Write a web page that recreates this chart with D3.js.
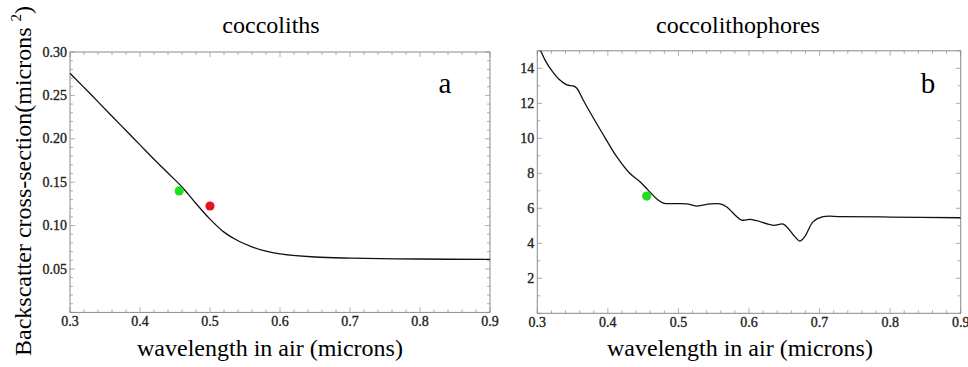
<!DOCTYPE html>
<html><head><meta charset="utf-8">
<script src="https://cdn.jsdelivr.net/npm/d3@7"></script>
<style>body{margin:0;background:#fff}svg{display:block}</style>
</head><body>
<svg id="c" width="968" height="367"></svg>
<script>
// ---- data ----
const xTicks = [0.3,0.4,0.5,0.6,0.7,0.8,0.9];
const leftYTicks = [0.05,0.10,0.15,0.20,0.25,0.30];
const rightYTicks = [2,4,6,8,10,12,14];
const coccolithWl = [0.30,0.33,0.36,0.38,0.40,0.42,0.44,0.46,0.48,0.50,0.52,0.54,0.56,0.58,0.60,0.65,0.70,0.80,0.90];
const coccolithVal = [0.2755,0.251,0.226,0.2095,0.193,0.1765,0.1605,0.1445,0.1255,0.1075,0.0925,0.0825,0.0755,0.0705,0.0675,0.0638,0.0625,0.0615,0.0610];
const coccolithPtsWl = [0.456,0.500];
const coccolithPtsVal = [0.140,0.1226];
const coccolithPtsColor = ["#1fe01f","#e8141c"];
const phoreWl = [0.300,0.304,0.311,0.320,0.332,0.342,0.351,0.356,0.365,0.377,0.398,0.4125,0.431,0.4455,0.457,0.469,0.4785,0.497,0.512,0.526,0.545,0.559,0.568,0.5895,0.601,0.611,0.634,0.6485,0.6556,0.665,0.672,0.679,0.691,0.705,0.73,0.8,0.9];
const phoreVal = [15.2,15.05,14.47,13.9,13.33,13.05,12.99,12.86,12.19,11.33,9.90,8.95,8.0,7.52,7.04,6.55,6.30,6.27,6.25,6.13,6.25,6.25,6.09,5.33,5.37,5.29,5.03,5.10,4.85,4.38,4.13,4.38,5.24,5.52,5.53,5.50,5.46];
const phorePtsWl = [0.455];
const phorePtsVal = [6.70];
const phorePtsColor = ["#1fe01f"];

const svg = d3.select("#c");
const serif = "'Liberation Serif','Times New Roman',serif";

function panel(cfg){
  const x = d3.scaleLinear().domain([0.3,0.9]).range([cfg.x0,cfg.x1]);
  const y = d3.scaleLinear().domain(cfg.yDom).range([cfg.y0,cfg.y1]);
  const g = svg.append("g");
  const clipId = "clip"+cfg.id;
  svg.append("clipPath").attr("id",clipId).append("rect")
    .attr("x",cfg.x0).attr("y",cfg.y1).attr("width",cfg.x1-cfg.x0).attr("height",cfg.y0-cfg.y1);
  const xMinor = d3.range(0.3,0.9001,0.02);
  const yMinor = d3.range(cfg.yDom[0],cfg.yDom[1]+1e-9,cfg.yMinorStep);
  const tc = "#999";
  xMinor.forEach(v=>{
    const major = xTicks.some(t=>Math.abs(t-v)<1e-6);
    const L = major?5:3;
    g.append("line").attr("x1",x(v)).attr("x2",x(v)).attr("y1",cfg.y0).attr("y2",cfg.y0-L).attr("stroke",tc).attr("stroke-width",0.8);
    g.append("line").attr("x1",x(v)).attr("x2",x(v)).attr("y1",cfg.y1).attr("y2",cfg.y1+L).attr("stroke",tc).attr("stroke-width",0.8);
  });
  yMinor.forEach(v=>{
    const major = cfg.yTicks.some(t=>Math.abs(t-v)<1e-6);
    const L = major?5:3;
    g.append("line").attr("y1",y(v)).attr("y2",y(v)).attr("x1",cfg.x0).attr("x2",cfg.x0+L).attr("stroke",tc).attr("stroke-width",0.8);
    g.append("line").attr("y1",y(v)).attr("y2",y(v)).attr("x1",cfg.x1).attr("x2",cfg.x1-L).attr("stroke",tc).attr("stroke-width",0.8);
  });
  g.append("rect").attr("x",cfg.x0).attr("y",cfg.y1).attr("width",cfg.x1-cfg.x0).attr("height",cfg.y0-cfg.y1)
    .attr("fill","none").attr("stroke","#8a8a8a").attr("stroke-width",1);
  g.selectAll(".xt").data(xTicks).enter().append("text")
    .attr("x",d=>x(d)).attr("y",cfg.y0+14).attr("text-anchor","middle")
    .attr("font-family",serif).attr("font-size",14).attr("fill","#222").attr("stroke","#222").attr("stroke-width",0.35)
    .text(d3.format(".1f"));
  g.selectAll(".yt").data(cfg.yTicks).enter().append("text")
    .attr("x",cfg.x0-3).attr("y",d=>y(d)+4.5).attr("text-anchor","end")
    .attr("font-family",serif).attr("font-size",14).attr("fill","#222").attr("stroke","#222").attr("stroke-width",0.35)
    .text(cfg.yFmt);
  const line = d3.line().x(d=>x(d[0])).y(d=>y(d[1])).curve(d3.curveCatmullRom.alpha(0.5));
  g.append("path").datum(d3.zip(cfg.wl,cfg.val)).attr("d",line)
    .attr("fill","none").attr("stroke","#111").attr("stroke-width",1.3).attr("clip-path","url(#"+clipId+")");
  g.selectAll(".pt").data(d3.zip(cfg.pw,cfg.pv,cfg.pc)).enter().append("circle")
    .attr("cx",d=>x(d[0])).attr("cy",d=>y(d[1])).attr("r",4.6).attr("fill",d=>d[2]);
  g.append("text").attr("x",cfg.titleX).attr("y",33).attr("text-anchor","middle")
    .attr("font-family",serif).attr("font-size",24).text(cfg.title);
  g.append("text").attr("x",cfg.letterX).attr("y",93).attr("text-anchor","middle")
    .attr("font-family",serif).attr("font-size",29).text(cfg.letter);
  g.append("text").attr("x",cfg.xlabX).attr("y",356).attr("text-anchor","middle")
    .attr("font-family",serif).attr("font-size",24).text("wavelength in air (microns)");
}

panel({id:"a",x0:70,x1:490,y0:312.4,y1:52,yDom:[0,0.30],yTicks:leftYTicks,yMinorStep:0.01,
  yFmt:d3.format(".2f"),wl:coccolithWl,val:coccolithVal,pw:coccolithPtsWl,pv:coccolithPtsVal,pc:coccolithPtsColor,
  title:"coccoliths",titleX:271,letter:"a",letterX:445,xlabX:270});
panel({id:"b",x0:537.3,x1:960.7,y0:313.3,y1:50.8,yDom:[0,15],yTicks:rightYTicks,yMinorStep:1,
  yFmt:d3.format("d"),wl:phoreWl,val:phoreVal,pw:phorePtsWl,pv:phorePtsVal,pc:phorePtsColor,
  title:"coccolithophores",titleX:738,letter:"b",letterX:928,xlabX:740});

const yl = svg.append("text").attr("transform","translate(31,181) rotate(-90)")
  .attr("text-anchor","middle").attr("font-family",serif).attr("font-size",24);
yl.append("tspan").text("Backscatter cross-section(microns ");
yl.append("tspan").attr("font-size",15).attr("dy",-10).text("2");
yl.append("tspan").attr("dy",10).text(")");
</script>
</body></html>
